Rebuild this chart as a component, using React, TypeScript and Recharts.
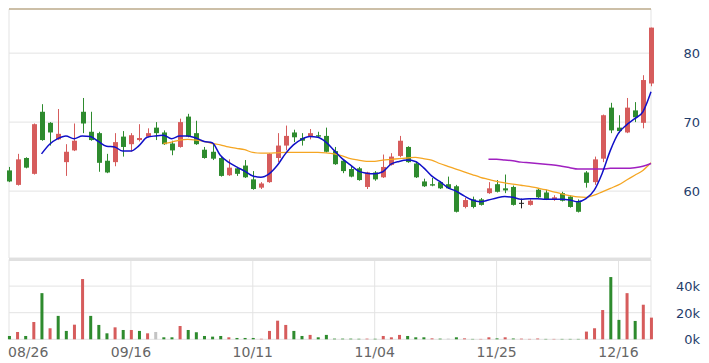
import React from 'react';
import {
  ComposedChart,
  Bar,
  Line,
  XAxis,
  YAxis,
  CartesianGrid,
  ReferenceLine,
} from 'recharts';

// daily prices, one entry per trading day starting 08/26
const opens = [
  63.0, 60.9, 64.8, 62.5, 71.5, 69.9, 67.5, 64.2, 65.9, 71.5,
  68.6, 68.4, 64.4, 64.2, 67.9, 66.8, 67.4, 67.9, 69.2, 68.5,
  66.9, 66.4, 70.8, 68.4, 66.0, 65.7, 64.8, 62.3, 63.3, 63.7,
  61.7, 60.5, 61.3, 64.8, 66.6, 68.5, 67.7, 67.9, 68.1, 68.0,
  65.8, 64.4, 63.2, 63.3, 60.6, 62.7, 62.0, 63.8, 65.1, 66.4,
  64.0, 61.4, 61.0, 61.3, 61.0, 60.7, 57.7, 58.8, 58.8, 59.7,
  61.0, 60.4, 60.6, 58.3, 58.0, 60.2, 59.8, 58.8, 59.7, 59.2,
  58.4, 62.7, 61.3, 64.7, 72.1, 69.2, 68.5, 71.7, 69.9, 75.6,
];
const closes = [
  61.4, 64.6, 63.4, 69.7, 67.4, 68.5, 68.3, 65.7, 67.3, 69.8,
  67.4, 64.1, 62.7, 67.1, 66.4, 68.1, 67.7, 68.4, 68.4, 66.8,
  65.9, 70.0, 67.9, 66.8, 64.8, 64.7, 62.2, 63.4, 62.5, 62.0,
  60.3, 61.1, 65.4, 66.6, 68.0, 67.8, 67.3, 68.4, 67.9, 65.7,
  63.9, 62.9, 62.1, 61.6, 62.7, 61.7, 63.5, 65.0, 67.3, 64.2,
  62.0, 60.7, 60.8, 60.4, 60.4, 57.0, 58.7, 57.7, 58.0, 60.4,
  59.9, 60.1, 58.0, 58.3, 58.6, 59.1, 58.8, 59.1, 58.6, 57.7,
  57.0, 61.2, 64.6, 71.0, 68.8, 68.7, 72.1, 70.7, 76.1, 83.7,
];
const highs = [
  63.5, 65.4, 64.9, 69.8, 72.6, 70.0, 71.9, 66.8, 69.8, 73.5,
  71.5, 68.6, 65.4, 68.4, 68.7, 68.4, 69.7, 69.1, 70.0, 68.8,
  67.3, 70.5, 71.2, 70.2, 66.4, 66.8, 65.0, 64.6, 63.5, 64.5,
  62.9, 61.3, 65.5, 68.4, 69.5, 68.9, 68.4, 69.0, 68.6, 69.2,
  66.4, 64.5, 63.7, 63.5, 62.8, 62.9, 65.3, 65.5, 68.0, 66.5,
  64.2, 61.8, 61.9, 61.4, 62.1, 60.9, 59.0, 59.2, 59.0, 61.3,
  61.6, 62.4, 60.8, 58.9, 58.8, 60.4, 60.2, 59.4, 59.9, 59.4,
  58.8, 62.9, 65.0, 71.1, 72.8, 71.0, 73.5, 72.9, 76.8, 83.7,
];
const lows = [
  61.3, 60.8, 63.3, 62.4, 67.3, 66.6, 67.4, 62.2, 65.8, 68.4,
  67.3, 62.8, 62.6, 63.6, 65.0, 65.7, 67.2, 67.8, 67.4, 66.7,
  65.2, 66.3, 67.8, 66.7, 64.7, 64.5, 62.1, 62.2, 62.2, 61.9,
  60.2, 60.3, 61.2, 64.2, 65.9, 67.1, 66.6, 67.5, 67.7, 65.6,
  63.8, 62.6, 62.0, 61.5, 60.3, 61.5, 61.9, 63.7, 64.9, 64.1,
  61.9, 60.6, 60.7, 60.3, 60.3, 56.9, 57.5, 57.5, 57.9, 59.6,
  59.8, 59.7, 57.9, 57.5, 57.9, 59.0, 58.7, 58.6, 58.5, 57.6,
  56.9, 60.5, 60.9, 64.2, 68.4, 68.4, 68.4, 70.0, 69.1, 75.2,
];
// volume in thousands
const volumes = [
  2.5, 5.5, 2.5, 13, 34.7, 8.3, 17.6, 6.3, 11, 45.3,
  17.6, 10.8, 4.5, 9, 7, 7, 6.3, 4.5, 5.5, 1.5,
  1.5, 10, 7, 5.3, 2.5, 2, 2.5, 1.5, 1, 1,
  1, 0.4, 6.3, 14, 10.8, 6.3, 2.5, 3.3, 1.5, 3.3,
  0.5, 0.5, 0.5, 0.4, 0.5, 0.4, 2.5, 1.5, 3.3, 2.5,
  1.5, 1.5, 0.7, 0.5, 0.5, 1.5, 0.7, 0.3, 0.3, 1.5,
  0.7, 1.5, 0.6, 0.5, 0.3, 0.6, 0.3, 0.3, 0.3, 0.3,
  0.3, 5.8, 8.3, 22, 46.8, 14.6, 34.7, 13.8, 26, 16.3,
];
// moving averages as drawn (MA5 from day 4, MA20 from day 19, MA60 from day 59)
const ma5 = [
  65.4, 66.8, 67.6, 68.0, 67.6, 68.0, 67.9, 67.2, 66.5, 66.4,
  65.8, 65.8, 66.6, 67.8, 68.0, 68.1, 67.6, 68.0, 68.0, 67.7,
  67.2, 67.0, 65.2, 64.2, 63.5, 62.9, 62.2, 62.0, 62.5, 63.7,
  65.4, 66.7, 67.5, 67.9, 67.8, 67.1, 65.9, 64.7, 63.8, 62.9,
  62.6, 62.5, 62.8, 63.9, 64.3, 64.5, 64.3, 63.4, 62.2, 61.4,
  60.5, 60.0, 59.3, 58.7, 58.45, 58.7, 59.0, 59.2, 59.1, 58.8,
  58.9, 58.9, 58.8, 58.8, 58.8, 58.7, 58.45, 58.9, 60.1, 62.6,
  65.9, 68.4, 69.6, 70.5, 71.5, 74.4,
];
const ma20 = [
  66.9, 67.1, 67.4, 67.5, 67.4, 67.2, 66.9, 66.7, 66.4, 66.2,
  66.0, 65.6, 65.5, 65.5, 65.55, 65.6, 65.6, 65.6, 65.6, 65.6,
  65.55, 65.4, 65.1, 64.7, 64.5, 64.3, 64.3, 64.5, 64.6, 64.7,
  64.8, 64.9, 64.7, 64.5, 64.0, 63.6, 63.2, 62.8, 62.4, 62.0,
  61.7, 61.4, 61.2, 61.0, 60.85, 60.7, 60.45, 60.2, 59.9, 59.6,
  59.35, 59.15, 59.1, 59.4, 59.9, 60.4, 60.9, 61.6, 62.3, 63.0,
  64.1,
];
const ma60 = [
  64.6, 64.6, 64.5, 64.4, 64.2, 64.1, 64.0, 63.9, 63.8, 63.6,
  63.4, 63.2, 63.2, 63.2, 63.2, 63.3, 63.3, 63.3, 63.4, 63.6,
  64.0,
];

const tickIndex = [0, 15, 30, 45, 60, 75];
const tickLabels = ['08/26', '09/16', '10/11', '11/04', '11/25', '12/16'];

const UP = '#d65c5c';
const DOWN = '#2e8b2e';
const FLAT = '#222222';

const lastIndex = opens.length - 1;

const data = opens.map((open, i) => {
  const close = closes[i];
  const prev = i === 0 ? open : closes[i - 1];
  return {
    i,
    open,
    close,
    high: highs[i],
    low: lows[i],
    vol: volumes[i],
    color: close > open ? UP : close < open ? DOWN : FLAT,
    volColor: close > prev ? UP : close < prev ? DOWN : '#c4c4c4',
    ma5: i >= 4 ? ma5[i - 4] : null,
    ma20: i >= 19 ? ma20[i - 19] : null,
    ma60: i >= 59 ? ma60[i - 59] : null,
  };
});

const Candle = (props: any) => {
  const { x, y, width, height, payload } = props;
  const { open, close, high, low, color } = payload;
  const cx = Math.round(x + width / 2) + 0.5;
  const top = Math.min(y, y + height);
  const h = Math.abs(height);
  const per = high - low > 0 ? h / (high - low) : 0;
  const yOf = (v: number) => top + (high - v) * per;
  const bodyTop = yOf(Math.max(open, close));
  const bodyBot = yOf(Math.min(open, close));
  const bodyH = Math.max(1, bodyBot - bodyTop);
  return (
    <g>
      <line x1={cx} x2={cx} y1={top} y2={top + h} stroke={color} strokeWidth={1} />
      <rect x={cx - 2.5} y={bodyTop} width={5} height={bodyH} fill={color} />
    </g>
  );
};

const VolBar = (props: any) => {
  const { x, y, width, height, payload } = props;
  const cx = x + width / 2;
  return <rect x={cx - 1.5} y={y} width={3} height={Math.max(0, height)} fill={payload.volColor} />;
};

const font = '"DejaVu Sans", Verdana, sans-serif';

const PriceTick = (props: any) => (
  <text x={700} y={props.y} dy={5} textAnchor="end" fontSize={13} fontFamily={font} fill="#1f3d6b">
    {props.payload.value}
  </text>
);

const VolTick = (props: any) => (
  <text x={700} y={props.y} dy={5} textAnchor="end" fontSize={13} fontFamily={font} fill="#1f3d6b">
    {`${props.payload.value}k`}
  </text>
);

const DateTick = (props: any) => {
  const idx = tickIndex.indexOf(props.payload.value);
  const first = idx === 0;
  return (
    <text
      x={first ? props.x - 1 : props.x}
      y={props.y + 18}
      textAnchor={first ? 'start' : 'middle'}
      fontSize={14}
      fontFamily={font}
      fill="#666666"
    >
      {tickLabels[idx]}
    </text>
  );
};

const GRID = '#e3e3e3';

const App = () => {
  return (
    <div style={{ position: 'absolute', left: 0, top: 0, width: 709, height: 363, background: '#fff' }}>
      <div style={{ position: 'absolute', left: 0, top: 0 }}>
        <ComposedChart width={709} height={260} data={data} margin={{ top: 9, right: 0, left: 9, bottom: 2 }}>
          <CartesianGrid stroke={GRID} />
          <XAxis
            type="number"
            dataKey="i"
            domain={[0, lastIndex]}
            ticks={tickIndex}
            height={0}
            tick={false}
            axisLine={false}
            tickLine={false}
          />
          <YAxis
            orientation="right"
            width={58}
            domain={[50.3, 86.4]}
            ticks={[60, 70, 80]}
            axisLine={false}
            tickLine={false}
            tick={<PriceTick />}
          />
          <ReferenceLine y={86.4} stroke="#bfae8e" strokeWidth={1.5} />
          <Bar
            dataKey={(d: any) => [d.low, d.high]}
            barSize={5}
            shape={<Candle />}
            isAnimationActive={false}
          />
          <Line type="monotone" dataKey="ma20" stroke="#f5a623" strokeWidth={1.3} dot={false} isAnimationActive={false} />
          <Line type="monotone" dataKey="ma60" stroke="#a020c0" strokeWidth={1.5} dot={false} isAnimationActive={false} />
          <Line type="monotone" dataKey="ma5" stroke="#1010c8" strokeWidth={1.5} dot={false} isAnimationActive={false} />
        </ComposedChart>
      </div>
      <div style={{ position: 'absolute', left: 0, top: 250 }}>
        <ComposedChart width={709} height={113} data={data} margin={{ top: 9.5, right: 0, left: 9, bottom: 0 }}>
          <CartesianGrid stroke={GRID} />
          <XAxis
            type="number"
            dataKey="i"
            domain={[0, lastIndex]}
            ticks={tickIndex}
            height={23.7}
            axisLine={false}
            tickLine={false}
            tickSize={0}
            tickMargin={0}
            tick={<DateTick />}
          />
          <YAxis
            orientation="right"
            width={58}
            domain={[0, 60]}
            ticks={[0, 20, 40]}
            axisLine={false}
            tickLine={false}
            tick={<VolTick />}
          />
          <ReferenceLine y={60} stroke="#e0e0e0" strokeWidth={3} />
          <Bar dataKey="vol" barSize={3} shape={<VolBar />} isAnimationActive={false} />
        </ComposedChart>
      </div>
    </div>
  );
};

export default App;
